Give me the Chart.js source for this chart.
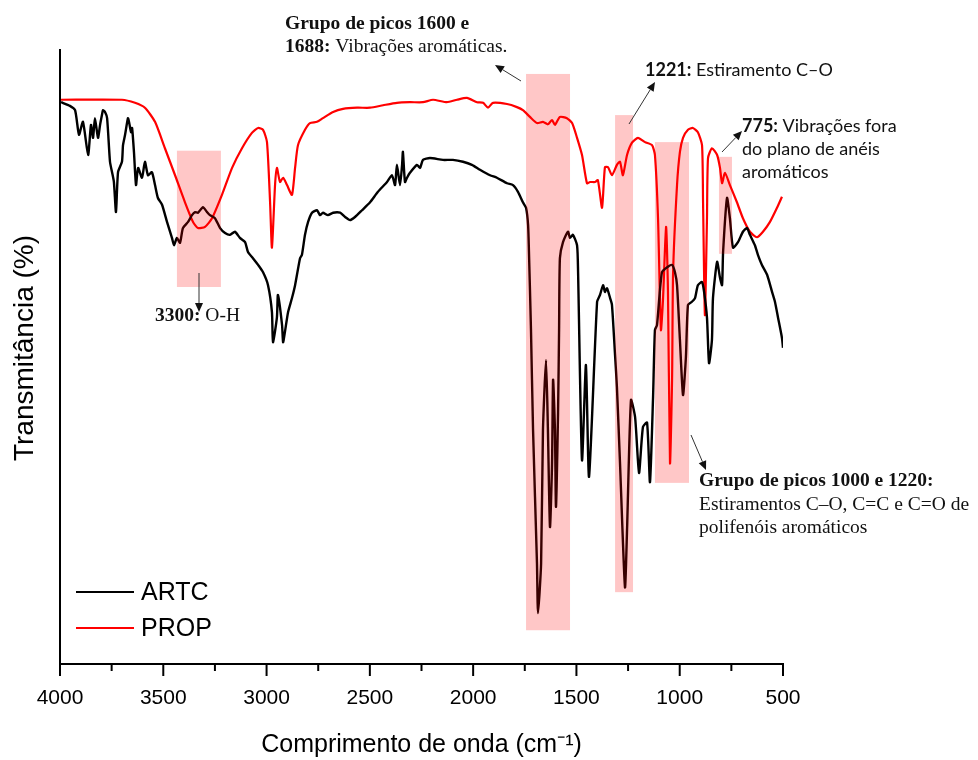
<!DOCTYPE html>
<html>
<head>
<meta charset="utf-8">
<script src="https://cdn.jsdelivr.net/npm/chart.js@4.4.1/dist/chart.umd.min.js"></script>
<style>
  html, body { margin: 0; padding: 0; background: #fff; }
</style>
</head>
<body>
<canvas id="ftir" width="978" height="760"></canvas>
<script>
// FTIR spectra: wavenumber (cm-1) and transmittance (arbitrary %)
const artcWn = [3995, 3952, 3927, 3908, 3889, 3864, 3850, 3840, 3831, 3816, 3806, 3797, 3792, 3782, 3772,
  3758, 3748, 3739, 3729, 3719, 3700, 3695, 3685, 3671, 3666, 3656, 3651, 3642, 3632, 3622, 3603, 3589,
  3574, 3555, 3540, 3526, 3506, 3482, 3458, 3448, 3434, 3419, 3405, 3380, 3361, 3346, 3332, 3308, 3288,
  3274, 3250, 3225, 3201, 3177, 3153, 3129, 3104, 3090, 3066, 3041, 3017, 2993, 2974, 2969, 2950, 2945,
  2925, 2920, 2911, 2896, 2877, 2862, 2838, 2829, 2814, 2799, 2780, 2756, 2741, 2727, 2703, 2678, 2644,
  2620, 2596, 2572, 2538, 2499, 2461, 2417, 2393, 2378, 2369, 2354, 2344, 2340, 2330, 2320, 2306, 2272,
  2257, 2243, 2209, 2146, 2098, 2049, 2006, 1967, 1918, 1885, 1836, 1807, 1783, 1759, 1744, 1734, 1730,
  1720, 1710, 1691, 1686, 1671, 1662, 1647, 1638, 1628, 1618, 1613, 1604, 1599, 1589, 1584, 1580, 1565,
  1541, 1531, 1517, 1497, 1492, 1473, 1454, 1439, 1400, 1386, 1371, 1362, 1352, 1337, 1328, 1313, 1304,
  1289, 1265, 1255, 1236, 1216, 1197, 1178, 1158, 1144, 1129, 1120, 1110, 1086, 1057, 1037, 1023, 1013,
  999, 984, 970, 960, 941, 926, 912, 892, 882, 868, 858, 844, 839, 819, 805, 795, 790, 771, 757, 742,
  718, 694, 674, 660, 636, 621, 602, 577, 553, 539, 524, 505, 500];
const artcT = [91.5, 90.9, 90.2, 86.2, 88.3, 82.9, 87.8, 85.7, 88.9, 85.7, 87.8, 89.4, 90.2, 89.9, 88.9,
  81.8, 80.1, 78.5, 73.6, 80.1, 81.8, 84.5, 86.2, 88.9, 88.3, 86.6, 87.3, 83.4, 78.0, 80.8, 79.2, 81.8,
  79.6, 80.1, 78.0, 75.9, 74.8, 72.0, 69.4, 68.2, 69.4, 68.6, 71.0, 72.0, 73.1, 73.6, 73.5, 74.4, 73.6,
  73.1, 72.6, 71.0, 70.2, 69.9, 70.4, 69.4, 68.7, 67.1, 66.1, 65.0, 63.8, 61.7, 57.3, 52.4, 56.4, 60.1,
  55.2, 52.4, 54.1, 57.3, 59.6, 61.7, 66.1, 66.6, 69.9, 72.0, 73.5, 73.9, 73.1, 73.5, 73.1, 73.5, 73.5,
  72.8, 72.3, 72.8, 73.9, 75.2, 76.9, 78.5, 79.6, 78.0, 81.3, 78.0, 81.3, 83.4, 78.5, 79.2, 80.0, 81.3,
  80.8, 82.1, 82.4, 82.1, 82.1, 81.8, 81.3, 80.5, 79.6, 79.2, 78.3, 78.0, 76.9, 75.2, 74.3, 71.5, 67.4,
  54.4, 38.1, 16.4, 8.3, 16.4, 38.1, 49.5, 38.1, 22.3, 32.7, 46.3, 38.1, 25.6, 40.9, 54.4, 66.1, 68.7,
  70.4, 69.4, 69.9, 68.2, 63.8, 33.2, 48.7, 30.5, 59.0, 60.1, 61.7, 60.6, 61.2, 59.6, 58.5, 50.3, 45.1,
  32.7, 12.5, 21.8, 43.0, 40.2, 31.1, 38.6, 39.3, 29.6, 43.5, 54.4, 55.2, 63.8, 64.7, 65.0, 63.8, 61.7,
  52.8, 43.8, 50.0, 58.5, 59.0, 59.6, 61.7, 62.2, 60.6, 56.4, 49.0, 52.8, 59.6, 65.5, 62.9, 61.7, 67.1,
  75.9, 72.6, 67.8, 68.7, 70.4, 71.0, 69.9, 68.2, 66.6, 65.0, 63.4, 60.6, 59.0, 56.4, 53.1, 51.5];

const propWn = [3995, 3700, 3637, 3589, 3540, 3492, 3443, 3395, 3356, 3332, 3298, 3264, 3216, 3167, 3119,
  3071, 3041, 3017, 2998, 2983, 2974, 2959, 2950, 2935, 2920, 2901, 2877, 2862, 2848, 2814, 2790, 2756,
  2727, 2678, 2630, 2562, 2499, 2436, 2369, 2306, 2243, 2194, 2127, 2078, 2030, 1981, 1952, 1928, 1904,
  1836, 1788, 1759, 1725, 1691, 1662, 1638, 1618, 1604, 1580, 1546, 1521, 1497, 1473, 1449, 1434, 1410,
  1396, 1376, 1362, 1347, 1328, 1304, 1289, 1275, 1255, 1231, 1202, 1168, 1134, 1120, 1105, 1091, 1081,
  1066, 1057, 1047, 1037, 1032, 1013, 999, 984, 960, 936, 912, 892, 887, 878, 868, 863, 844, 819, 805,
  795, 781, 757, 723, 694, 660, 626, 597, 563, 529, 505];
const propT = [91.9, 91.9, 91.4, 90.6, 88.3, 84.0, 79.6, 75.2, 72.0, 71.0, 71.2, 72.6, 76.4, 80.8, 84.0,
  86.5, 87.3, 87.0, 85.0, 75.2, 67.8, 78.0, 80.8, 78.5, 79.2, 78.0, 76.4, 80.8, 84.5, 87.0, 88.1, 88.3,
  88.9, 89.9, 90.4, 90.6, 90.6, 91.0, 91.4, 91.5, 91.5, 91.9, 91.5, 91.9, 92.2, 91.5, 91.4, 90.6, 91.4,
  91.2, 90.7, 90.2, 89.1, 88.1, 88.3, 87.9, 88.6, 87.8, 89.1, 88.9, 88.1, 85.7, 82.9, 78.3, 78.5, 78.5,
  78.8, 74.3, 80.9, 80.9, 79.6, 81.3, 81.8, 79.6, 82.9, 84.9, 85.7, 85.0, 84.5, 82.9, 72.6, 54.4, 59.3,
  71.2, 60.9, 32.7, 46.3, 63.8, 78.0, 83.4, 85.7, 87.0, 87.3, 86.6, 84.5, 75.2, 56.8, 72.6, 82.4, 84.0,
  82.9, 80.8, 78.3, 80.0, 78.0, 75.2, 72.6, 70.4, 69.5, 70.4, 72.0, 74.3, 76.1];

const seriesNames = ['ARTC', 'PROP'];
const seriesColors = ['#000000', '#ff0000'];
const xLabelStep = 500;

// highlighted bands: [from cm-1, to cm-1, top %, bottom %]
const bands = [
  [3434, 3221, 83.6, 61.4],
  [1744, 1531, 96.1, 5.5],
  [1313, 1226, 89.4, 11.7],
  [1120, 955, 85.0, 29.5],
  [810, 747, 82.6, 66.8]
];

const arial = '"Liberation Sans", Arial, sans-serif';
const serif = '"Liberation Serif", "Times New Roman", serif';
const sans = 'Lato, "Noto Sans", sans-serif';

function drawRuns(ctx, x, y, parts, size, family) {
  parts.forEach(([txt, bold]) => {
    ctx.font = (bold ? 'bold ' : '') + size + 'px ' + family;
    ctx.fillText(txt, x, y);
    x += ctx.measureText(txt).width;
  });
}

function arrow(ctx, x1, y1, x2, y2) {
  const a = Math.atan2(y2 - y1, x2 - x1), h = 9, w = 4;
  ctx.beginPath();
  ctx.moveTo(x1, y1);
  ctx.lineTo(x2 - h * Math.cos(a), y2 - h * Math.sin(a));
  ctx.stroke();
  ctx.beginPath();
  ctx.moveTo(x2, y2);
  ctx.lineTo(x2 - h * Math.cos(a) + w * Math.sin(a), y2 - h * Math.sin(a) - w * Math.cos(a));
  ctx.lineTo(x2 - h * Math.cos(a) - w * Math.sin(a), y2 - h * Math.sin(a) + w * Math.cos(a));
  ctx.closePath();
  ctx.fill();
}

const bandPlugin = {
  id: 'bands',
  afterDatasetsDraw(chart) {
    const {ctx, scales: {x, y}} = chart;
    ctx.save();
    ctx.fillStyle = 'rgba(255, 0, 0, 0.22)';
    bands.forEach(([w1, w2, t1, t2]) => {
      const x1 = x.getPixelForValue(w1), x2 = x.getPixelForValue(w2);
      const y1 = y.getPixelForValue(t1), y2 = y.getPixelForValue(t2);
      ctx.fillRect(Math.min(x1, x2), Math.min(y1, y2), Math.abs(x2 - x1), Math.abs(y2 - y1));
    });
    ctx.restore();
  }
};

const decorPlugin = {
  id: 'decor',
  afterDraw(chart) {
    const {ctx, scales: {x}, chartArea} = chart;
    ctx.save();

    // outward tick marks, long on labelled values
    ctx.strokeStyle = '#000';
    ctx.lineWidth = 2;
    x.ticks.forEach(t => {
      const px = x.getPixelForValue(t.value);
      const len = t.value % xLabelStep === 0 ? 12 : 7;
      ctx.beginPath();
      ctx.moveTo(px, x.top);
      ctx.lineTo(px, x.top + len);
      ctx.stroke();
    });

    // y title, sits a little above the middle of the axis
    ctx.save();
    ctx.translate(33, 348);
    ctx.rotate(-Math.PI / 2);
    ctx.font = '28px ' + arial;
    ctx.fillStyle = '#000';
    ctx.textAlign = 'center';
    ctx.textBaseline = 'alphabetic';
    ctx.fillText('Transmitância (%)', 0, 0);
    ctx.restore();

    // legend in the lower left corner of the plot
    ctx.font = '25px ' + arial;
    ctx.textBaseline = 'middle';
    chart.data.datasets.forEach((ds, i) => {
      const ly = 592 + i * 36;
      ctx.strokeStyle = ds.borderColor;
      ctx.lineWidth = 2;
      ctx.beginPath();
      ctx.moveTo(chartArea.left + 16, ly);
      ctx.lineTo(chartArea.left + 74, ly);
      ctx.stroke();
      ctx.fillStyle = '#000';
      ctx.fillText(ds.label, chartArea.left + 81, ly + 1);
    });

    // band annotations
    ctx.textBaseline = 'alphabetic';
    ctx.fillStyle = '#111';
    drawRuns(ctx, 285, 29, [['Grupo de picos 1600 e', true]], 19.5, serif);
    drawRuns(ctx, 285, 52, [['1688:', true], [' Vibrações aromáticas.', false]], 19.5, serif);
    drawRuns(ctx, 645, 76, [['1221:', true], [' Estiramento C–O', false]], 18, sans);
    drawRuns(ctx, 742, 132, [['775:', true], [' Vibrações fora', false]], 18, sans);
    drawRuns(ctx, 742, 155, [['do plano de anéis', false]], 18, sans);
    drawRuns(ctx, 742, 178, [['aromáticos', false]], 18, sans);
    drawRuns(ctx, 155, 321, [['3300:', true], [' O-H', false]], 19.5, serif);
    drawRuns(ctx, 699, 486, [['Grupo de picos 1000 e 1220:', true]], 19.5, serif);
    drawRuns(ctx, 699, 510, [['Estiramentos C–O, C=C e C=O de', false]], 19.5, serif);
    drawRuns(ctx, 699, 533, [['polifenóis aromáticos', false]], 19.5, serif);

    ctx.strokeStyle = '#333';
    ctx.fillStyle = '#111';
    ctx.lineWidth = 1;
    arrow(ctx, 521, 81, 495, 65);
    arrow(ctx, 629, 124, 655, 82);
    arrow(ctx, 722, 152, 742, 131);
    arrow(ctx, 199, 273, 199, 312);
    arrow(ctx, 691, 435, 706, 470);

    ctx.restore();
  }
};

const toPoints = (wn, t) => wn.map((w, i) => ({x: w, y: t[i]}));

new Chart(document.getElementById('ftir'), {
  type: 'line',
  data: {
    datasets: [
      {label: seriesNames[0], data: toPoints(artcWn, artcT), borderColor: seriesColors[0], borderWidth: 2.4},
      {label: seriesNames[1], data: toPoints(propWn, propT), borderColor: seriesColors[1], borderWidth: 2.2}
    ]
  },
  options: {
    responsive: false,
    animation: false,
    devicePixelRatio: 1,
    layout: {padding: {top: 50, right: 195, left: 0, bottom: 0}},
    elements: {point: {radius: 0}, line: {tension: 0.2, fill: false}},
    plugins: {legend: {display: false}, tooltip: {enabled: false}},
    scales: {
      x: {
        type: 'linear', reverse: true, min: 500, max: 4000,
        afterFit: s => { s.height = 96; },
        border: {display: true, color: '#000', width: 2},
        grid: {display: false, drawTicks: false},
        ticks: {
          stepSize: 250, autoSkip: false, maxRotation: 0, padding: 22, color: '#000',
          font: {family: arial, size: 21},
          callback: v => (v % xLabelStep === 0 ? String(v) : '')
        },
        title: {
          display: true, text: 'Comprimento de onda (cm⁻¹)', color: '#000',
          font: {family: arial, size: 25},
          padding: {top: 0, bottom: 0}
        }
      },
      y: {
        min: 0, max: 100,
        afterFit: s => { s.width = 60; },
        border: {display: true, color: '#000', width: 2},
        grid: {display: false, drawTicks: false},
        ticks: {display: false},
        title: {display: false}
      }
    }
  },
  plugins: [bandPlugin, decorPlugin]
});
</script>
</body>
</html>
